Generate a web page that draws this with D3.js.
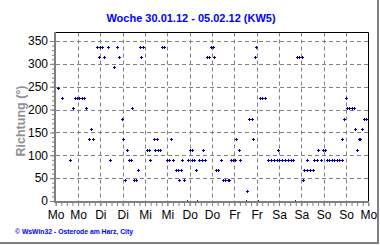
<!DOCTYPE html>
<html>
<head>
<meta charset="utf-8">
<script src="https://cdn.jsdelivr.net/npm/d3@7"></script>
<style>
  body { margin: 0; background: #fff; }
  svg { display: block; font-family: "Liberation Sans", Arial, sans-serif; }
</style>
</head>
<body>
<div id="chart"></div>
<script>
// Windrichtung, [Stunde des Tages, Richtung in Grad]
const montag = [[1.2,247.5],[3.5,225],[7.5,90],[9.5,202.5],[10.2,225],[11.4,225],[12.7,225],[14.0,225],[15.2,225],[16.5,202.5],[17.7,135],[19.0,157.5],[20.2,135],[22.0,337.5],[23.3,315],[23.8,337.5]];
const dienstag = [[1.0,337.5],[2.1,315],[4.3,337.5],[5.2,90],[7.5,292.5],[9.1,337.5],[10.2,315],[11.5,180],[12.3,135],[13.4,45],[14.5,112.5],[15.2,90],[16.5,90],[17.2,202.5],[18.1,45],[19.3,45],[20.4,67.5],[21.3,337.5],[22.0,315],[22.7,337.5]];
const mittwoch = [[0.9,112.5],[2.1,112.5],[2.8,90],[4.8,135],[5.4,112.5],[6.3,135],[6.8,112.5],[8.0,112.5],[9.1,337.5],[10.4,337.5],[11.6,90],[12.9,90],[14.1,135],[15.2,90],[16.5,67.5],[17.7,67.5],[18.3,45],[19.2,67.5],[20.0,90],[21.1,45],[22.4,0],[23.2,90]];
const donnerstag = [[0.4,112.5],[1.2,90],[1.5,112.5],[2.3,90],[3.2,67.5],[4.1,0],[5.2,90],[6.8,90],[7.3,112.5],[8.4,90],[9.1,315],[10.4,315],[11.3,337.5],[12.4,337.5],[13.3,315],[14.1,67.5],[15.4,67.5],[16.8,90],[18.0,45],[19.2,45],[20.4,45],[21.4,45],[22.2,90],[23.2,90]];
const freitag = [[0.2,90],[1.0,135],[2.3,112.5],[3.2,90],[6.1,0],[6.8,22.5],[8.0,180],[9.3,180],[10.2,135],[11.1,315],[11.8,337.5],[12.9,0],[13.8,225],[15.0,225],[16.3,225],[18.1,90],[19.6,90],[21.2,90],[22.7,90],[23.3,112.5]];
const samstag = [[0.2,90],[1.7,90],[3.2,90],[4.7,90],[6.2,90],[7.7,90],[8.4,0],[9.8,315],[10.9,315],[12.2,315],[12.7,45],[13.6,67.5],[15.2,67.5],[15.2,90],[16.8,67.5],[18.4,67.5],[19.0,90],[20.2,90],[21.1,112.5],[22.6,90],[23.8,112.5]];
const sonntag = [[0.9,112.5],[1.6,90],[3.0,90],[4.3,90],[5.6,90],[7.0,90],[8.3,90],[9.7,90],[10.0,135],[10.9,180],[12.0,225],[12.5,202.5],[13.8,202.5],[15.1,202.5],[16.4,202.5],[17.0,157.5],[18.0,112.5],[19.0,135],[19.5,135],[20.8,157.5],[21.7,180],[23.0,180]];

const tage = [montag, dienstag, mittwoch, donnerstag, freitag, samstag, sonntag];
const xLabels = ['Mo','Mo','Di','Di','Mi','Mi','Do','Do','Fr','Fr','Sa','Sa','So','So','Mo'];
const yTicks = [0, 50, 100, 150, 200, 250, 300, 350];
const titel = 'Woche 30.01.12 - 05.02.12 (KW5)';
const fuss = '\u00a9 WsWin32  -  Osterode am Harz, City';

const W = 380, H = 245;
const svg = d3.select('#chart').append('svg').attr('width', W).attr('height', H);
svg.append('rect').attr('width', W).attr('height', H).attr('fill', '#fff');

const punkte = [];
tage.forEach((tag, i) => {
  for (const [h, r] of tag) punkte.push({ t: i * 24 + h, r: r });
});

const x = d3.scaleLinear().domain([0, 168]).range([55.7, 368.3]);
const y = d3.scaleLinear().domain([0, 350]).range([201, 41]);
const plotTop = 32.5, plotRight = 368.5;

// grid
const grid = svg.append('g').attr('stroke', '#808080').attr('stroke-dasharray', '4,3').attr('stroke-width', 1);
grid.selectAll('line.h').data(yTicks.slice(1)).join('line')
  .attr('x1', 56).attr('x2', plotRight)
  .attr('y1', d => Math.round(y(d)) + 0.5).attr('y2', d => Math.round(y(d)) + 0.5);
grid.selectAll('line.v').data(d3.range(12, 168, 12)).join('line')
  .attr('y1', plotTop).attr('y2', 201)
  .attr('x1', d => Math.round(x(d)) + 0.5).attr('x2', d => Math.round(x(d)) + 0.5);

// frame
svg.append('line').attr('x1', 55).attr('x2', plotRight).attr('y1', plotTop).attr('y2', plotTop).attr('stroke', '#000');
svg.append('line').attr('x1', plotRight).attr('x2', plotRight).attr('y1', plotTop).attr('y2', 202).attr('stroke', '#000');

// y axis
const yMinor = svg.append('g').attr('transform', 'translate(54,0)')
  .call(d3.axisLeft(y).tickValues(d3.range(0, 351, 10)).tickSize(2).tickFormat(''));
const yAxis = svg.append('g').attr('transform', 'translate(54,0)')
  .call(d3.axisLeft(y).tickValues(yTicks).tickSize(4).tickPadding(2));
[yMinor, yAxis].forEach(g => { g.select('.domain').remove(); g.selectAll('line').attr('stroke', '#808080'); });
yAxis.selectAll('text').attr('font-size', 12).attr('fill', '#000').attr('font-family', '"Liberation Sans", Arial, sans-serif');

// x axis
const xMinor = svg.append('g').attr('transform', 'translate(0,203)')
  .call(d3.axisBottom(x).tickValues(d3.range(0, 169, 3)).tickSize(3).tickFormat(''));
const xAxis = svg.append('g').attr('transform', 'translate(0,203)')
  .call(d3.axisBottom(x).tickValues(d3.range(0, 169, 12)).tickSize(3).tickPadding(4)
    .tickFormat((d, i) => xLabels[i]));
[xMinor, xAxis].forEach(g => { g.select('.domain').remove(); g.selectAll('line').attr('stroke', '#808080'); });
xAxis.selectAll('text').attr('font-size', 12).attr('fill', '#000').attr('font-family', '"Liberation Sans", Arial, sans-serif');

// points
svg.append('g').selectAll('path').data(punkte).join('path')
  .attr('d', d3.symbol(d3.symbolCross).size(5))
  .attr('transform', d => `translate(${Math.round(x(d.t)) + 0.5},${Math.round(y(d.r)) + 0.5})`)
  .attr('fill', '#0000a0');

// gray axes
svg.append('line').attr('x1', 55).attr('x2', 55).attr('y1', plotTop - 0.5).attr('y2', 203).attr('stroke', '#808080').attr('stroke-width', 2);
svg.append('line').attr('x1', 54).attr('x2', 369).attr('y1', 202).attr('y2', 202).attr('stroke', '#808080').attr('stroke-width', 2);

// texts
svg.append('text').attr('x', 191).attr('y', 21.5).attr('text-anchor', 'middle')
  .attr('font-size', 11).attr('font-weight', 'bold').attr('fill', '#0000ff').text(titel);
svg.append('text').attr('transform', 'translate(24.5,121) rotate(-90)').attr('text-anchor', 'middle')
  .attr('font-size', 12.5).attr('font-weight', 'bold').attr('fill', '#909090').text('Richtung  (°)');
svg.append('text').attr('x', 15).attr('y', 233.5).attr('font-size', 7).attr('font-weight', 'bold')
  .attr('fill', '#0000ff').attr('textLength', 118).attr('lengthAdjust', 'spacingAndGlyphs').text(fuss);

// border
svg.append('line').attr('x1', 378).attr('x2', 378).attr('y1', 0).attr('y2', 244).attr('stroke', '#808080').attr('stroke-width', 2);
svg.append('line').attr('x1', 0).attr('x2', 379).attr('y1', 243).attr('y2', 243).attr('stroke', '#808080').attr('stroke-width', 2);
</script>
</body>
</html>
